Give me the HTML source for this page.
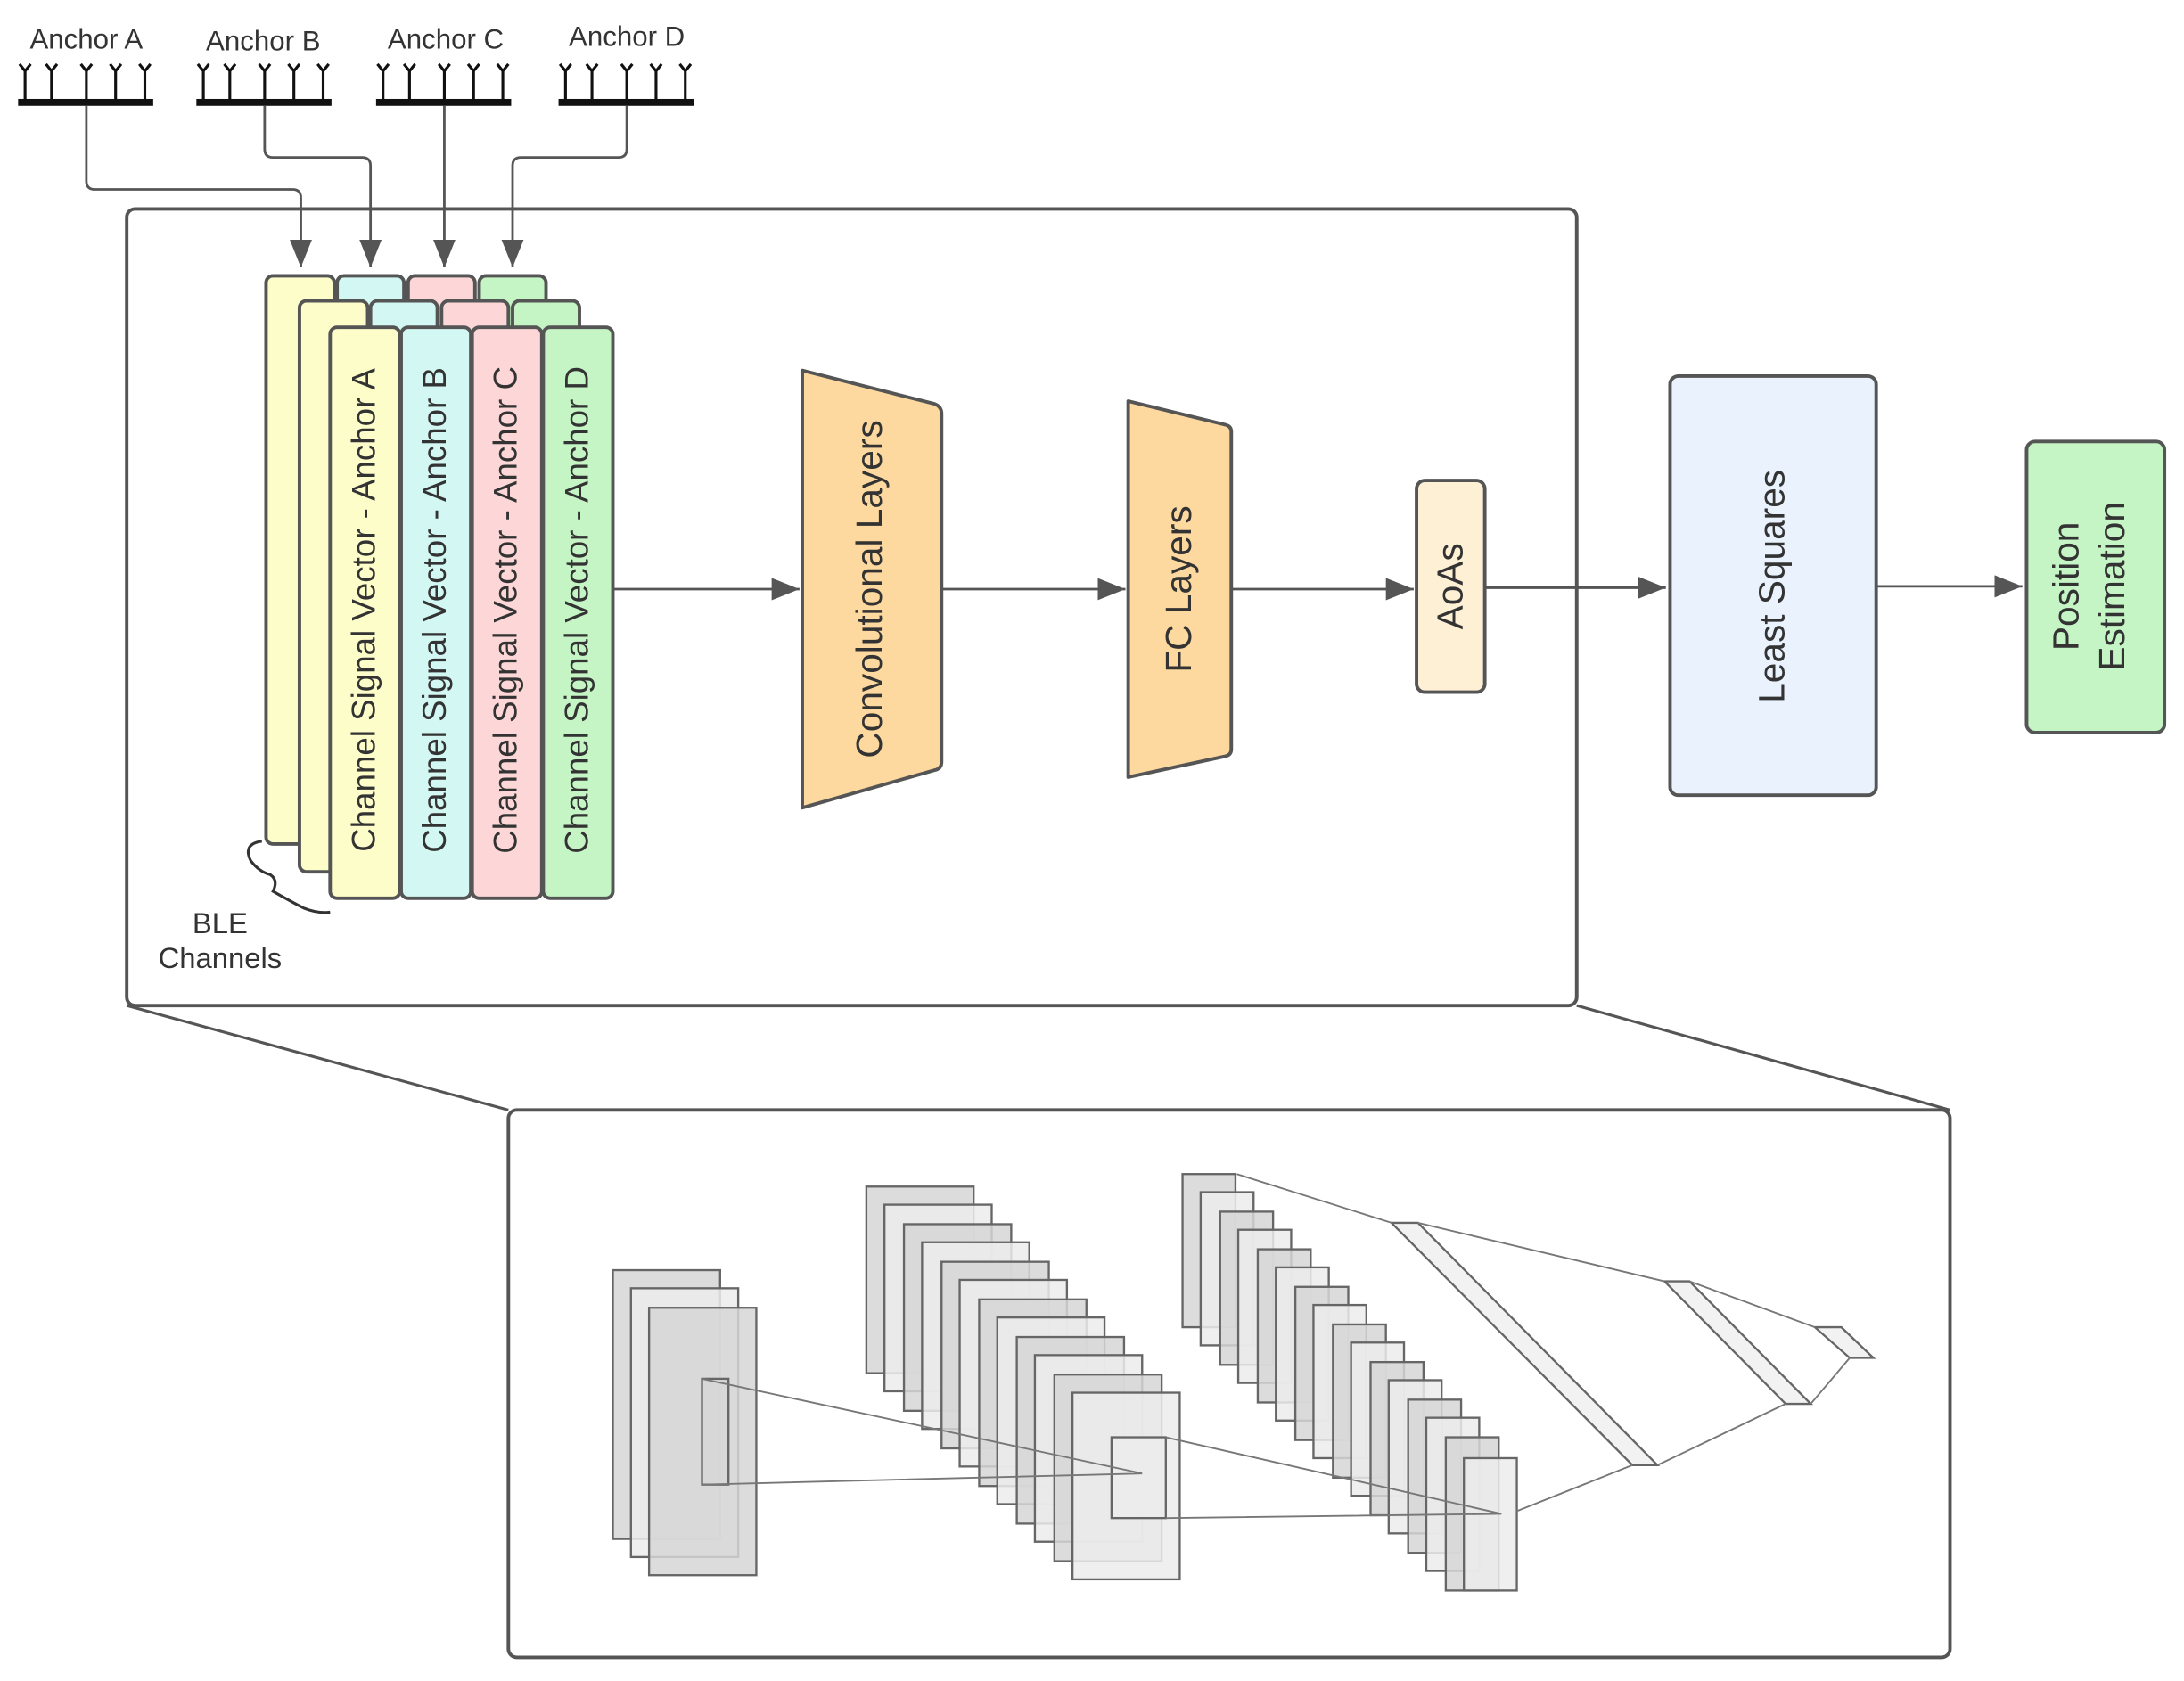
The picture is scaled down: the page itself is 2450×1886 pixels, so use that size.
<!DOCTYPE html>
<html><head><meta charset="utf-8"><style>html,body{margin:0;padding:0;background:#fff}svg{display:block}</style></head>
<body>
<svg width="2450" height="1886" viewBox="0 0 1568 1207" xmlns="http://www.w3.org/2000/svg" font-family="Liberation Sans, sans-serif">
<defs>
<marker id="ar2" viewBox="0 0 10 10" refX="10" refY="5" markerWidth="20" markerHeight="16" orient="auto" markerUnits="userSpaceOnUse" preserveAspectRatio="none"><path d="M0,0 L10,5 L0,10z" fill="#555"/></marker>
</defs>
<!-- anchors -->
<g font-size="20" fill="#333" text-anchor="middle">
<text x="62" y="35">Anchor A</text><text x="189" y="36">Anchor B</text><text x="320" y="35">Anchor C</text><text x="450" y="33">Anchor D</text>
</g>
<g stroke="#111" stroke-width="2" fill="none">
<g><path d="M18,72V50M37,72V50M62,72V50M83,72V50M104,72V50M14,46L18,51L22,46M33,46L37,51L41,46M58,46L62,51L66,46M79,46L83,51L87,46M100,46L104,51L108,46"/></g>
<g transform="translate(128,0)"><path d="M18,72V50M37,72V50M62,72V50M83,72V50M104,72V50M14,46L18,51L22,46M33,46L37,51L41,46M58,46L62,51L66,46M79,46L83,51L87,46M100,46L104,51L108,46"/></g>
<g transform="translate(257,0)"><path d="M18,72V50M37,72V50M62,72V50M83,72V50M104,72V50M14,46L18,51L22,46M33,46L37,51L41,46M58,46L62,51L66,46M79,46L83,51L87,46M100,46L104,51L108,46"/></g>
<g transform="translate(388,0)"><path d="M18,72V50M37,72V50M62,72V50M83,72V50M104,72V50M14,46L18,51L22,46M33,46L37,51L41,46M58,46L62,51L66,46M79,46L83,51L87,46M100,46L104,51L108,46"/></g>
</g>
<g fill="#111"><rect x="13" y="71" width="97" height="5"/><rect x="141" y="71" width="97" height="5"/><rect x="270" y="71" width="97" height="5"/><rect x="401" y="71" width="97" height="5"/></g>
<!-- connectors -->
<g stroke="#555" stroke-width="1.8" fill="none" marker-end="url(#ar2)">
<path d="M62,76V130Q62,136 68,136H210Q216,136 216,142V192"/>
<path d="M190,76V107Q190,113 196,113H260Q266,113 266,119V192"/>
<path d="M319,76V192"/>
<path d="M450,76V107Q450,113 444,113H374Q368,113 368,119V192"/>
</g>
<!-- big box -->
<rect x="91" y="150" width="1041" height="572" rx="6" fill="none" stroke="#555" stroke-width="2.5"/>
<!-- cards -->
<g stroke="#555" stroke-width="2.5">
<rect x="191" y="198" width="49" height="408" rx="5" fill="#fdfdca"/>
<rect x="242" y="198" width="48" height="408" rx="5" fill="#d3f8f3"/>
<rect x="293" y="198" width="48" height="408" rx="5" fill="#fdd7d7"/>
<rect x="344" y="198" width="48" height="408" rx="5" fill="#c5f5c5"/>
<rect x="215" y="216" width="49" height="410" rx="5" fill="#fdfdca"/>
<rect x="266" y="216" width="48" height="410" rx="5" fill="#d3f8f3"/>
<rect x="317" y="216" width="48" height="410" rx="5" fill="#fdd7d7"/>
<rect x="368" y="216" width="48" height="410" rx="5" fill="#c5f5c5"/>
<rect x="237" y="235" width="50" height="410" rx="5" fill="#fdfdca"/>
<rect x="288" y="235" width="50" height="410" rx="5" fill="#d3f8f3"/>
<rect x="339" y="235" width="50" height="410" rx="5" fill="#fdd7d7"/>
<rect x="390" y="235" width="50" height="410" rx="5" fill="#c5f5c5"/>
</g>
<g font-size="23.5" fill="#333" text-anchor="middle">
<text transform="translate(269,438) rotate(-90)">Channel Signal Vector - Anchor A</text>
<text transform="translate(320,438) rotate(-90)">Channel Signal Vector - Anchor B</text>
<text transform="translate(371,438) rotate(-90)">Channel Signal Vector - Anchor C</text>
<text transform="translate(422,438) rotate(-90)">Channel Signal Vector - Anchor D</text>
</g>
<path d="M188,604 Q174,606 180,618 Q186,626 194,628 Q200,632 196,640 Q210,648 218,652 Q228,656 237,655" fill="none" stroke="#333" stroke-width="2"/>
<g font-size="21" fill="#333" text-anchor="middle"><text x="158" y="670">BLE</text><text x="158" y="695">Channels</text></g>
<!-- flow -->
<g stroke="#555" stroke-width="1.8" fill="none" marker-end="url(#ar2)">
<path d="M440,423H574"/><path d="M677,423H808"/><path d="M885,423H1015"/><path d="M1066,422H1196"/><path d="M1347,421H1452"/>
</g>
<path d="M576,266 L671,290 Q676,292 676,297 V547 Q676,552 671,553 L576,580Z" fill="#fdd9a0" stroke="#555" stroke-width="2.5" stroke-linejoin="round"/>
<path d="M810,288 L880,305 Q884,306 884,310 V538 Q884,542 880,543 L810,558Z" fill="#fdd9a0" stroke="#555" stroke-width="2.5" stroke-linejoin="round"/>
<rect x="1017" y="345" width="49" height="152" rx="6" fill="#fdf0d5" stroke="#555" stroke-width="2.5"/>
<rect x="1199" y="270" width="148" height="301" rx="6" fill="#e9f2fd" stroke="#555" stroke-width="2.5"/>
<rect x="1455" y="317" width="99" height="209" rx="6" fill="#c5f5c5" stroke="#555" stroke-width="2.5"/>
<g font-size="26" fill="#333" text-anchor="middle">
<text transform="translate(633,423) rotate(-90)">Convolutional Layers</text>
<text transform="translate(855,423) rotate(-90)">FC Layers</text>
<text transform="translate(1050,421) rotate(-90)">AoAs</text>
<text transform="translate(1281,421) rotate(-90)">Least Squares</text>
<text transform="translate(1492,421) rotate(-90)">Position</text>
<text transform="translate(1525,421) rotate(-90)">Estimation</text>
</g>
<!-- zoom lines & bottom box -->
<g stroke="#555" stroke-width="2" fill="none">
<path d="M91,722L365,797M1132,722L1400,797"/>
<rect x="365" y="797" width="1035" height="393" rx="6" stroke-width="2.5"/>
</g>
<!-- CNN -->
<g stroke="#666" stroke-width="1.5" fill-opacity="0.85">
<rect x="440" y="912" width="77" height="193" fill="#d6d6d6"/>
<rect x="453" y="925" width="77" height="193" fill="#ececec"/>
<rect x="466" y="939" width="77" height="192" fill="#d6d6d6"/>
<rect x="504" y="990" width="19" height="76" fill="#d6d6d6"/>
<g>
<rect x="622" y="852" width="77" height="134" fill="#d6d6d6"/>
<rect x="635" y="865" width="77" height="134" fill="#ececec"/>
<rect x="649" y="879" width="77" height="134" fill="#d6d6d6"/>
<rect x="662" y="892" width="77" height="134" fill="#ececec"/>
<rect x="676" y="906" width="77" height="134" fill="#d6d6d6"/>
<rect x="689" y="919" width="77" height="134" fill="#ececec"/>
<rect x="703" y="933" width="77" height="134" fill="#d6d6d6"/>
<rect x="716" y="946" width="77" height="134" fill="#ececec"/>
<rect x="730" y="960" width="77" height="134" fill="#d6d6d6"/>
<rect x="743" y="973" width="77" height="134" fill="#ececec"/>
<rect x="757" y="987" width="77" height="134" fill="#d6d6d6"/>
<rect x="770" y="1000" width="77" height="134" fill="#ececec"/>
</g>
<rect x="798" y="1032" width="39" height="58" fill="#ececec"/>
<g>
<rect x="849" y="843" width="38" height="110" fill="#d6d6d6"/>
<rect x="862" y="856" width="38" height="110" fill="#ececec"/>
<rect x="876" y="870" width="38" height="110" fill="#d6d6d6"/>
<rect x="889" y="883" width="38" height="110" fill="#ececec"/>
<rect x="903" y="897" width="38" height="110" fill="#d6d6d6"/>
<rect x="916" y="910" width="38" height="110" fill="#ececec"/>
<rect x="930" y="924" width="38" height="110" fill="#d6d6d6"/>
<rect x="943" y="937" width="38" height="110" fill="#ececec"/>
<rect x="957" y="951" width="38" height="110" fill="#d6d6d6"/>
<rect x="970" y="964" width="38" height="110" fill="#ececec"/>
<rect x="984" y="978" width="38" height="110" fill="#d6d6d6"/>
<rect x="997" y="991" width="38" height="110" fill="#ececec"/>
<rect x="1011" y="1005" width="38" height="110" fill="#d6d6d6"/>
<rect x="1024" y="1018" width="38" height="110" fill="#ececec"/>
<rect x="1038" y="1032" width="38" height="110" fill="#d6d6d6"/>
<rect x="1051" y="1047" width="38" height="95" fill="#ececec"/>
</g>
<path d="M999,878H1018L1190,1052H1172Z" fill="#f0f0f0"/>
<path d="M1195,920H1213L1300,1008H1282Z" fill="#f0f0f0"/>
<path d="M1303,953H1322L1345,975H1328Z" fill="#f0f0f0"/>
</g>
<g stroke="#777" stroke-width="1.2" fill="none">
<path d="M504,990L820,1058M504,1066L820,1058M837,1032L1078,1087M837,1090L1078,1087"/>
<path d="M888,843L999,878M1018,878L1195,920M1213,920L1303,953M1089,1085L1172,1052M1190,1052L1282,1008M1300,1008L1328,975"/>
</g>
</svg>
</body></html>
